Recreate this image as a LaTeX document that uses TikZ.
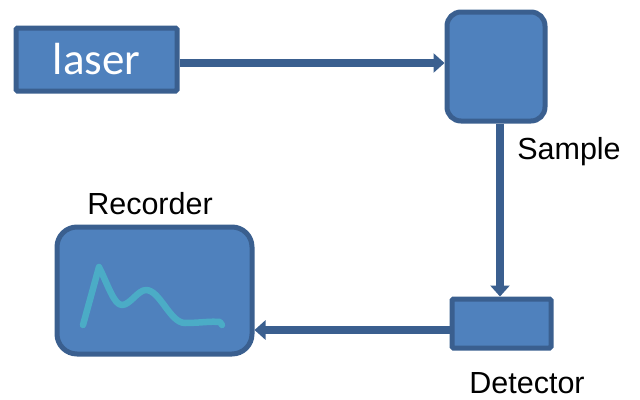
\documentclass[tikz,border=0pt]{standalone}
\usepackage{fontspec}
\setmainfont{Liberation Sans}
\newfontfamily\calib{Carlito}
\usetikzlibrary{arrows.meta}
\definecolor{boxfill}{HTML}{4F81BD}
\definecolor{boxline}{HTML}{3A5F8F}
\definecolor{curvecol}{HTML}{4BACC6}
\begin{document}
\begin{tikzpicture}[x=1pt,y=-1pt,
  blk/.style={draw=boxline,fill=boxfill,line width=5pt,inner sep=0pt},
  conn/.style={draw=boxline,line width=8pt,-{Triangle[length=11pt,width=19pt]}},
  lbl/.style={font=\fontsize{30.5}{34}\selectfont,text=black}]
\useasboundingbox (0,0) rectangle (640,399);
\node[blk,minimum width=161pt,minimum height=63pt,rounded corners=1.5pt] (laser) at (96.5,59.5) {\calib\fontsize{45}{50}\selectfont\color{white}laser};
\node[blk,minimum width=98pt,minimum height=109pt,rounded corners=14pt] (sample) at (496,66.5) {};
\node[blk,minimum width=99pt,minimum height=49pt,rounded corners=1.5pt] (det) at (501.5,323.5) {};
\node[blk,minimum width=195pt,minimum height=127pt,rounded corners=20pt] (rec) at (154.5,290.5) {};
\node[lbl] (slbl) at (569,152) {Sample};
\node[lbl] (rlbl) at (150,204) {Recorder};
\node[lbl] (dlbl) at (527,383) {Detector};
\draw[conn] (laser.east |- 0,63) -- (sample.west |- 0,63);
\draw[conn] (sample.south -| 500,0) -- (det.north -| 500,0);
\draw[conn] (det.west |- 0,330) -- (rec.east |- 0,330);
\draw[draw=curvecol,line width=6.5pt,line cap=round,line join=round]
  (83,325) -- (99,267) .. controls (108,285) and (114,305) .. (122,305)
  .. controls (130,305) and (138,290) .. (146,290)
  .. controls (160,290) and (170,323) .. (185,323)
  .. controls (200,323) and (210,321) .. (220,322) -- (222,325);
\end{tikzpicture}
\end{document}
